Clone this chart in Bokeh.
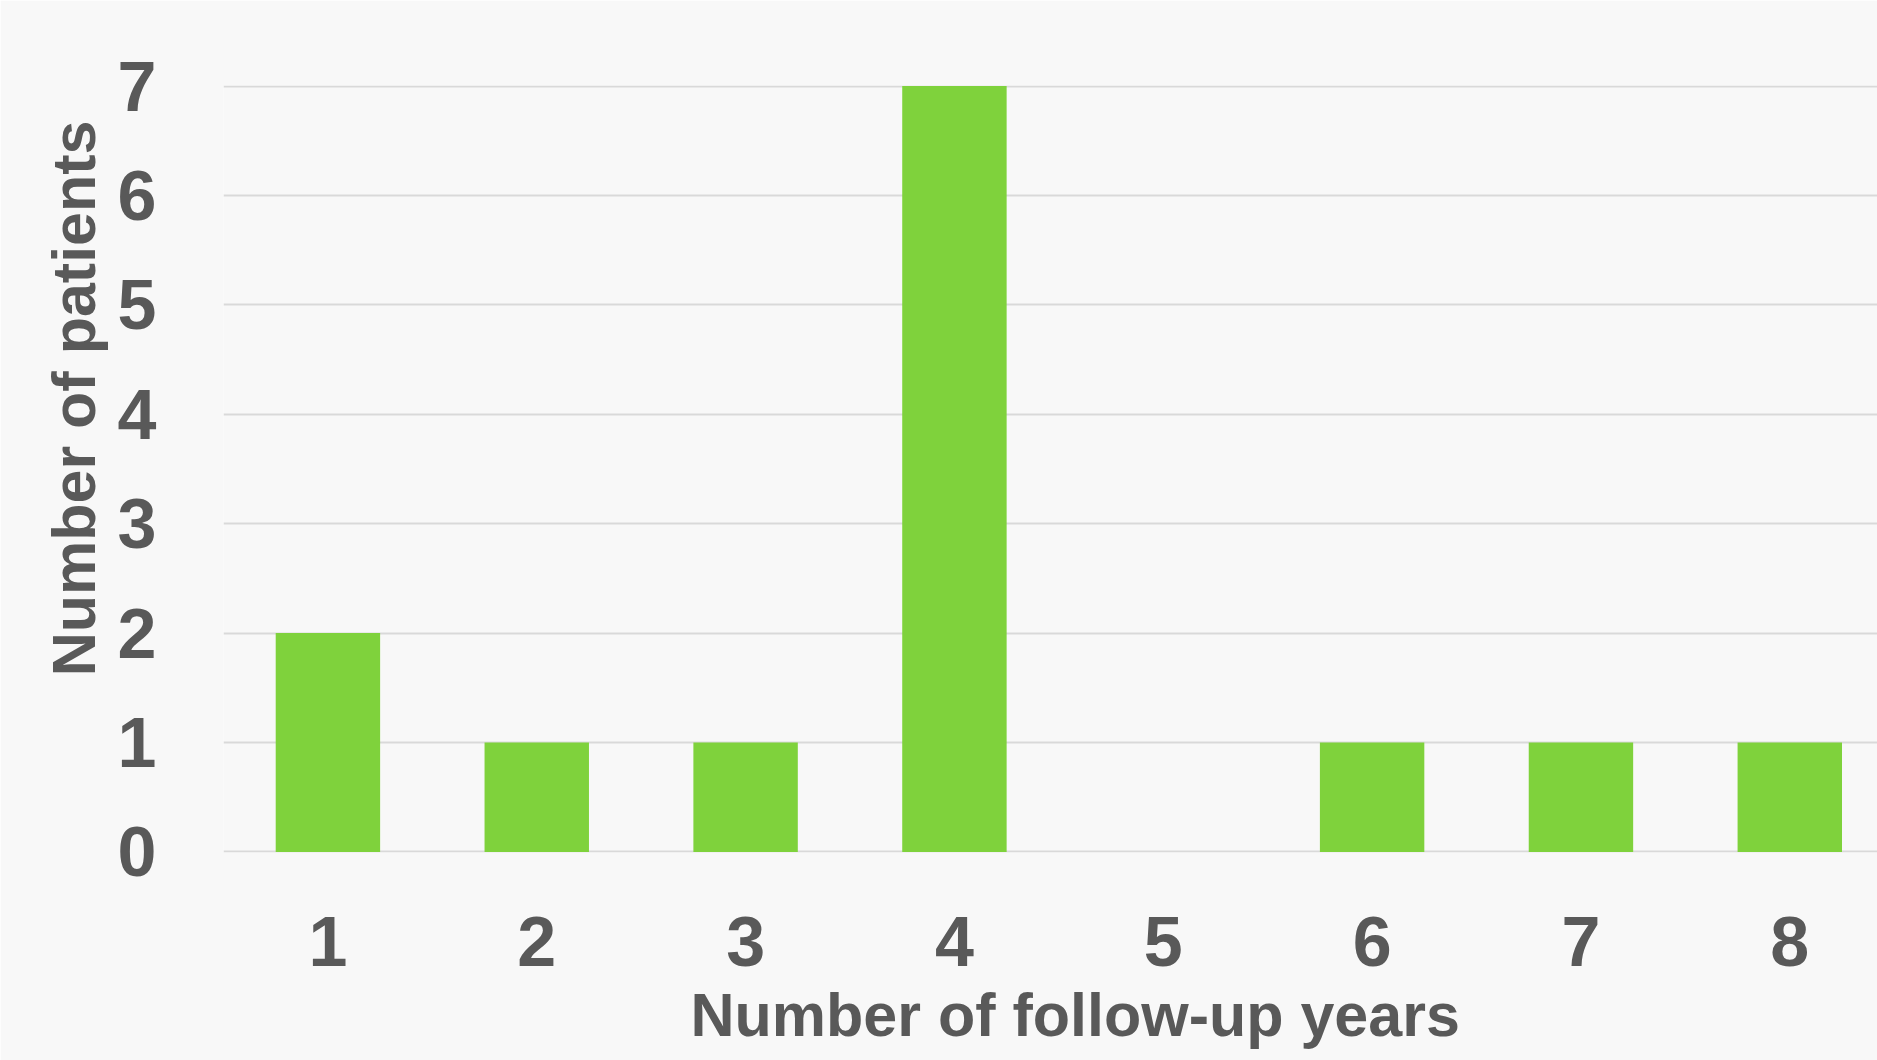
from bokeh.plotting import figure
from bokeh.models import Range1d, FixedTicker, Title
from bokeh.embed import file_html
from bokeh.resources import INLINE

years = [1, 2, 3, 4, 5, 6, 7, 8]
patients = [2, 1, 1, 7, 0, 1, 1, 1]
y_ticks = [0, 1, 2, 3, 4, 5, 6, 7]

FONT = "Liberation Sans"
TXT = "#595959"
BG = "#f8f8f8"

p = figure(width=1877, height=1060, output_backend="svg", toolbar_location=None,
           x_range=Range1d(0.5, 8.42), y_range=Range1d(-0.005, 7.005),
           min_border_left=223, min_border_right=0, min_border_top=85, min_border_bottom=208)
p.background_fill_color = BG
p.border_fill_color = BG
p.outline_line_color = None

p.vbar(x=years, top=patients, width=0.5, color="#7fd23c", line_color=None)

p.xgrid.grid_line_color = None
p.ygrid.grid_line_color = "#d9d9d9"
p.ygrid.grid_line_width = 2
p.ygrid.ticker = FixedTicker(ticks=y_ticks)

for ax in (p.xaxis, p.yaxis):
    ax.axis_line_color = None
    ax.major_tick_line_color = None
    ax.minor_tick_line_color = None
    ax.major_label_text_font = FONT
    ax.major_label_text_font_style = "bold"
    ax.major_label_text_font_size = "70px"
    ax.major_label_text_color = TXT

p.xaxis.ticker = FixedTicker(ticks=years)
p.yaxis.ticker = FixedTicker(ticks=y_ticks)
p.xaxis.major_label_standoff = 58
p.yaxis.major_label_standoff = 61

xt = Title(text="Number of follow-up years", align="left", offset=467,
           text_font=FONT, text_font_style="bold", text_font_size="61px",
           text_color=TXT, standoff=20)
p.add_layout(xt, "below")
yt = Title(text="Number of patients", align="right", offset=35,
           text_font=FONT, text_font_style="bold", text_font_size="61px",
           text_color=TXT, standoff=14)
p.add_layout(yt, "left")

open("out.html", "w").write(file_html(p, INLINE))
